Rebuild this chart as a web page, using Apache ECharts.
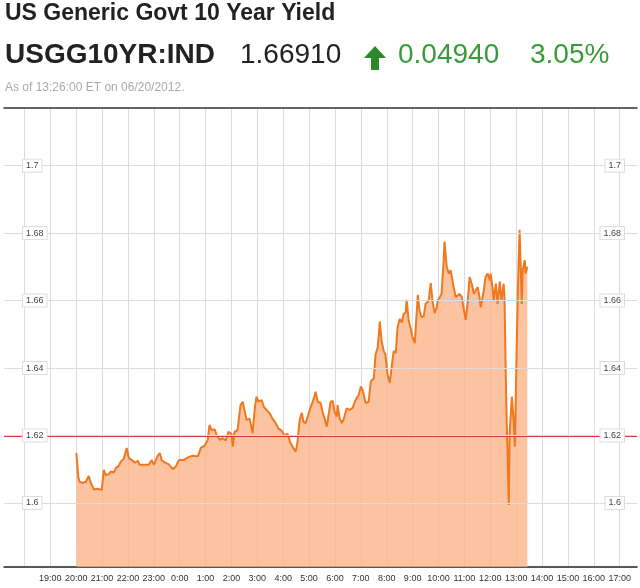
<!DOCTYPE html>
<html>
<head>
<meta charset="utf-8">
<script src="https://cdn.jsdelivr.net/npm/echarts@6/dist/echarts.min.js"></script>
<style>
html,body{margin:0;padding:0;background:#fff;}
#chart{width:640px;height:588px;}
</style>
</head>
<body>
<div id="chart"></div>
<script>
// ---- header texts ----
const titleText = 'US Generic Govt 10 Year Yield';
const tickerText = 'USGG10YR:IND';
const priceText = '1.66910';
const changeText = '0.04940';
const pctText = '3.05%';
const asOfText = 'As of 13:26:00 ET on 06/20/2012.';

// ---- axis ticks ----
const gridTimes = ['18:00','19:00','20:00','21:00','22:00','23:00','0:00','1:00','2:00','3:00','4:00','5:00','6:00','7:00','8:00','9:00','10:00','11:00','12:00','13:00','14:00','15:00','16:00','17:00'];
const labelTimes = ['19:00','20:00','21:00','22:00','23:00','0:00','1:00','2:00','3:00','4:00','5:00','6:00','7:00','8:00','9:00','10:00','11:00','12:00','13:00','14:00','15:00','16:00','17:00'];
const yTicks = [1.6, 1.62, 1.64, 1.66, 1.68, 1.7];
const refLevel = 1.62;

// ---- series data (ET clock time, yield) ----
const times = ['20:00','20:01','20:05','20:08','20:15','20:22','20:29','20:34','20:41','20:45','20:50','20:54','20:59','21:04','21:08','21:15','21:20','21:27','21:32','21:39','21:43','21:50','21:57','22:02','22:09','22:16','22:23','22:27','22:37','22:48','22:55','23:00','23:09','23:14','23:18','23:25','23:34','23:44','23:51','23:58','0:09','0:19','0:30','0:42','0:49','0:58','1:05','1:09','1:14','1:21','1:26','1:33','1:40','1:47','1:53','2:00','2:03','2:07','2:14','2:21','2:26','2:31','2:35','2:42','2:49','2:54','2:58','3:03','3:10','3:15','3:22','3:29','3:35','3:42','3:49','3:56','4:03','4:10','4:15','4:20','4:24','4:29','4:33','4:38','4:43','4:47','4:52','4:59','5:04','5:11','5:15','5:20','5:27','5:31','5:36','5:41','5:45','5:50','5:55','5:59','6:04','6:06','6:11','6:16','6:20','6:27','6:34','6:41','6:46','6:50','6:55','7:00','7:04','7:11','7:18','7:23','7:30','7:34','7:39','7:44','7:48','7:53','7:57','8:02','8:07','8:11','8:16','8:21','8:25','8:30','8:35','8:39','8:44','8:46','8:51','8:55','9:00','9:05','9:12','9:16','9:21','9:26','9:30','9:37','9:42','9:46','9:51','9:56','9:58','10:03','10:07','10:12','10:14','10:19','10:24','10:28','10:31','10:35','10:40','10:44','10:49','10:54','10:58','11:03','11:08','11:12','11:17','11:22','11:26','11:31','11:35','11:38','11:45','11:49','11:54','11:59','12:01','12:06','12:08','12:13','12:17','12:22','12:26','12:31','12:33','12:36','12:38','12:40','12:43','12:45','12:50','12:54','12:57','13:01','13:04','13:08','13:13','13:15','13:20','13:22','13:26'];
const yields = [1.6148,1.6140,1.6075,1.6062,1.6060,1.6062,1.6080,1.6059,1.6040,1.6035,1.6042,1.6047,1.6038,1.6098,1.6083,1.6085,1.6093,1.6090,1.6104,1.6110,1.6122,1.6130,1.6163,1.6133,1.6127,1.6119,1.6125,1.6113,1.6113,1.6113,1.6127,1.6113,1.6140,1.6148,1.6127,1.6120,1.6115,1.6100,1.6108,1.6127,1.6127,1.6135,1.6140,1.6138,1.6163,1.6170,1.6187,1.6231,1.6216,1.6218,1.6200,1.6187,1.6192,1.6185,1.6211,1.6205,1.6167,1.6211,1.6215,1.6290,1.6300,1.6270,1.6246,1.6250,1.6207,1.6280,1.6315,1.6300,1.6305,1.6285,1.6275,1.6265,1.6250,1.6238,1.6220,1.6215,1.6200,1.6205,1.6185,1.6170,1.6175,1.6152,1.6180,1.6245,1.6267,1.6240,1.6237,1.6265,1.6285,1.6310,1.6330,1.6300,1.6296,1.6270,1.6250,1.6226,1.6260,1.6300,1.6302,1.6270,1.6256,1.6290,1.6250,1.6237,1.6248,1.6280,1.6276,1.6282,1.6300,1.6310,1.6320,1.6345,1.6335,1.6296,1.6300,1.6360,1.6370,1.6440,1.6460,1.6538,1.6480,1.6450,1.6440,1.6380,1.6356,1.6400,1.6450,1.6445,1.6520,1.6545,1.6535,1.6560,1.6565,1.6602,1.6540,1.6520,1.6490,1.6474,1.6617,1.6570,1.6550,1.6555,1.6590,1.6600,1.6652,1.6600,1.6563,1.6580,1.6600,1.6610,1.6620,1.6720,1.6775,1.6700,1.6680,1.6690,1.6670,1.6640,1.6610,1.6605,1.6620,1.6610,1.6580,1.6543,1.6600,1.6670,1.6650,1.6620,1.6630,1.6640,1.6610,1.6580,1.6630,1.6670,1.6680,1.6660,1.6680,1.6630,1.6600,1.6650,1.6590,1.6656,1.6600,1.6650,1.6610,1.6375,1.6246,1.6150,1.5994,1.6210,1.6315,1.6246,1.6167,1.6445,1.6630,1.6810,1.6590,1.6690,1.6720,1.6680,1.6700];

// hours elapsed since 18:00 ET (session start)
function toHours(s) {
  const p = s.split(':');
  let h = parseInt(p[0], 10);
  if (h < 18) h += 24;
  return h - 18 + parseInt(p[1], 10) / 60;
}
function hourLabel(v) {
  const h = Math.round(v + 18) % 24;
  return h + ':00';
}

const seriesData = times.map((t, i) => [toHours(t), yields[i]]);
const gridVals = gridTimes.map(toHours);
const labelVals = labelTimes.map(toHours);

const chart = echarts.init(document.getElementById('chart'), null, {renderer: 'canvas'});
const labelFont = '"Liberation Sans Narrow", "Liberation Sans", Arial, sans-serif';
const yLabelStyle = {
  color: '#444', fontSize: 9, fontFamily: labelFont,
  backgroundColor: '#fff', borderColor: '#ddd', borderWidth: 1, padding: [2, 3, 1, 3]
};

chart.setOption({
  backgroundColor: '#fff',
  animation: false,
  grid: {left: 4, right: 3, top: 108, bottom: 21, containLabel: false, outerBoundsMode: 'none'},
  xAxis: [{
    type: 'value', position: 'bottom',
    min: -0.79, max: 23.67,
    axisLine: {show: true, onZero: false, lineStyle: {color: '#222', width: 1.5}},
    axisTick: {show: false, customValues: gridVals},
    splitLine: {show: true, lineStyle: {color: '#dcdcdc', width: 1}},
    axisLabel: {customValues: labelVals, formatter: hourLabel, color: '#333', fontSize: 9, fontFamily: labelFont, margin: 7}
  }, {
    type: 'value', position: 'top',
    min: -0.79, max: 23.67,
    axisLine: {show: true, onZero: false, lineStyle: {color: '#333', width: 1.5}},
    axisTick: {show: false}, axisLabel: {show: false}, splitLine: {show: false}
  }],
  yAxis: [{
    type: 'value', position: 'left', z: 10,
    min: 1.581, max: 1.7171,
    axisLine: {show: false},
    axisTick: {show: false, customValues: yTicks},
    splitLine: {show: true, lineStyle: {color: '#dcdcdc', width: 1}},
    axisLabel: Object.assign({inside: true, margin: 19, customValues: yTicks, formatter: v => String(+v.toFixed(2))}, yLabelStyle)
  }, {
    type: 'value', position: 'right', z: 10,
    min: 1.581, max: 1.7171,
    axisLine: {show: false},
    axisTick: {show: false, customValues: yTicks},
    splitLine: {show: false},
    axisLabel: Object.assign({inside: true, margin: 13, customValues: yTicks, formatter: v => String(+v.toFixed(2))}, yLabelStyle)
  }],
  series: [{
    type: 'line',
    data: seriesData,
    showSymbol: false,
    lineStyle: {color: '#f0781e', width: 2},
    areaStyle: {color: '#fbaf80', opacity: 0.75, origin: 'start'},
    markLine: {
      silent: true, symbol: 'none', label: {show: false},
      lineStyle: {color: '#d93636', width: 2, type: 'solid'},
      data: [{yAxis: refLevel}]
    },
    z: 2
  }],
  graphic: [
    {type: 'text', left: 5, top: 2, style: {text: titleText, font: 'bold 23px "Liberation Sans", Arial, sans-serif', fill: '#222'}},
    {type: 'text', left: 5, top: 41, style: {text: tickerText, font: 'bold 28px "Liberation Sans", Arial, sans-serif', fill: '#222'}},
    {type: 'text', left: 240, top: 41, style: {text: priceText, font: '28px "Liberation Sans", Arial, sans-serif', fill: '#222'}},
    {type: 'polygon', shape: {points: [[375, 46], [386, 58], [379, 58], [379, 70], [371, 70], [371, 58], [364, 58]]}, style: {fill: '#2a8a2a'}},
    {type: 'text', left: 398, top: 41, style: {text: changeText, font: '28px "Liberation Sans", Arial, sans-serif', fill: '#3a9a3a'}},
    {type: 'text', left: 530, top: 41, style: {text: pctText, font: '28px "Liberation Sans", Arial, sans-serif', fill: '#3a9a3a'}},
    {type: 'text', left: 5, top: 82, style: {text: asOfText, font: '12px "Liberation Sans", Arial, sans-serif', fill: '#aaa'}}
  ]
});
</script>
</body>
</html>
